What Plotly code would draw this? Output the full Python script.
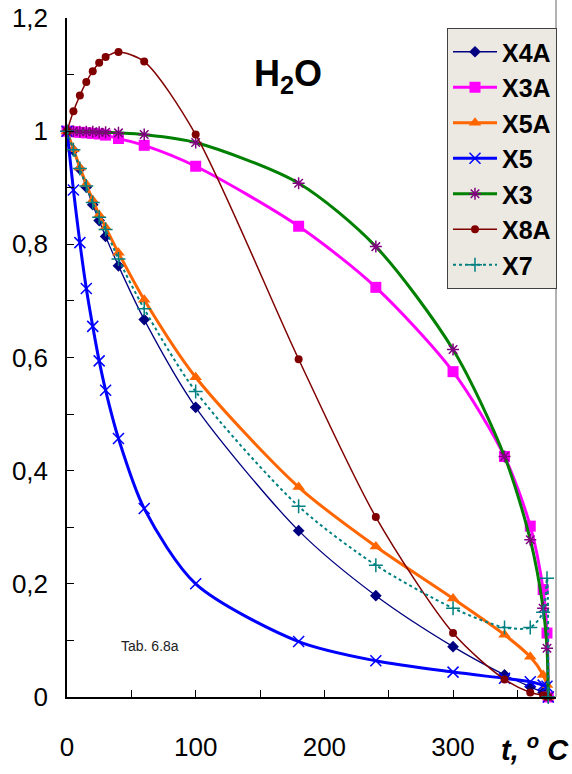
import plotly.graph_objects as go

# Temperature grid, deg C
T = [0, 5, 10, 15, 20, 25, 30, 40, 60, 100, 180, 240, 300, 340, 360, 370, 373, 374]

X4A = [1.0, 0.966, 0.933, 0.901, 0.870, 0.842, 0.814, 0.762, 0.667, 0.512, 0.294, 0.179, 0.089, 0.039, 0.018, 0.008, 0.004, 0.0]
X3A = [1.0, 0.999, 0.998, 0.997, 0.996, 0.995, 0.993, 0.987, 0.975, 0.938, 0.832, 0.724, 0.575, 0.425, 0.302, 0.190, 0.113, 0.0]
X5A = [1.0, 0.968, 0.936, 0.906, 0.878, 0.852, 0.830, 0.785, 0.702, 0.565, 0.371, 0.266, 0.174, 0.110, 0.071, 0.039, 0.021, 0.0]
X5 = [1.0, 0.896, 0.803, 0.722, 0.655, 0.594, 0.542, 0.457, 0.333, 0.200, 0.098, 0.064, 0.044, 0.033, 0.027, 0.021, 0.019, 0.0]
X3 = [1.0, 1.0, 0.999, 0.999, 0.999, 0.998, 0.998, 0.997, 0.994, 0.980, 0.908, 0.796, 0.614, 0.425, 0.278, 0.157, 0.086, 0.0]
X8A = [1.0, 1.035, 1.063, 1.087, 1.106, 1.121, 1.131, 1.140, 1.123, 0.994, 0.597, 0.318, 0.113, 0.031, 0.008, 0.003, 0.001, 0.0]
X7 = [1.0, 0.967, 0.934, 0.903, 0.874, 0.848, 0.826, 0.774, 0.686, 0.540, 0.337, 0.233, 0.157, 0.123, 0.123, 0.150, 0.210, 0.0]

x_ticks = [0, 50, 100, 150, 200, 250, 300, 350]
x_labels = ["0", "", "100", "", "200", "", "300", ""]
y_ticks = [0, 0.1, 0.2, 0.3, 0.4, 0.5, 0.6, 0.7, 0.8, 0.9, 1.0, 1.1, 1.2]
y_labels = ["0", "", "0,2", "", "0,4", "", "0,6", "", "0,8", "", "1", "", "1,2"]

series = [
    ("X4A", X4A, dict(color="#000080", width=1.3, dash="solid"),
     dict(symbol="diamond", size=9, color="#000080")),
    ("X3A", X3A, dict(color="#FF00FF", width=3, dash="solid"),
     dict(symbol="square", size=11, color="#FF00FF")),
    ("X5A", X5A, dict(color="#FF6600", width=3, dash="solid"),
     dict(symbol="triangle-up", size=11, color="#FF6600")),
    ("X5", X5, dict(color="#0000FF", width=3, dash="solid"),
     dict(symbol="x-thin-open", size=11, color="#0000FF", line=dict(color="#0000FF", width=1.5))),
    ("X3", X3, dict(color="#008000", width=3, dash="solid"),
     dict(symbol="asterisk-open", size=10, color="#800080", line=dict(color="#800080", width=1.5))),
    ("X8A", X8A, dict(color="#800000", width=1.5, dash="solid"),
     dict(symbol="circle", size=8, color="#800000")),
    ("X7", X7, dict(color="#008080", width=2, dash="dot"),
     dict(symbol="cross-thin-open", size=10, color="#008080", line=dict(color="#008080", width=1.5))),
]

fig = go.Figure()
for name, ys, ln, mk in series:
    fig.add_trace(go.Scatter(
        x=T, y=ys, name="<b>" + name + "</b>", mode="lines+markers",
        line=dict(shape="spline", smoothing=0.8, **ln),
        marker=mk, cliponaxis=False, legendgroup=name,
    ))

fig.update_layout(
    width=572, height=774, autosize=False,
    margin=dict(l=67, r=16, t=18, b=77),
    paper_bgcolor="white", plot_bgcolor="white",
    font=dict(family="Liberation Sans, Arial, sans-serif", color="black"),
    showlegend=True,
    legend=dict(
        x=(447 - 67) / 489, y=(697 - 28) / 679, xanchor="left", yanchor="top",
        bgcolor="#ECE9E2", bordercolor="#404040", borderwidth=1,
        font=dict(size=25, family="Liberation Sans, Arial, sans-serif", color="black"),
        tracegroupgap=0, traceorder="grouped", itemwidth=44,
    ),
    xaxis=dict(
        range=[0, 380], tickmode="array", tickvals=x_ticks, ticktext=x_labels,
        ticks="inside", ticklen=7, tickcolor="black", tickwidth=1,
        showline=True, linecolor="black", linewidth=1.5,
        showgrid=False, zeroline=False, tickfont=dict(size=26),
        ticklabelstandoff=26, automargin=False,
    ),
    yaxis=dict(
        range=[0, 1.2], tickmode="array", tickvals=y_ticks, ticktext=y_labels,
        ticks="inside", ticklen=7, tickcolor="black", tickwidth=1,
        showline=True, linecolor="black", linewidth=1.5,
        showgrid=False, zeroline=False, tickfont=dict(size=26),
        ticklabelstandoff=12, automargin=False,
    ),
)

# right border of the plot frame
fig.add_shape(type="line", xref="paper", yref="paper",
              x0=1, x1=1, y0=0, y1=1 + 18 / 679,
              line=dict(color="#999999", width=1.5))

fig.add_annotation(text="<b>H<sub>2</sub>O</b>", xref="paper", yref="paper",
                   x=(288 - 67) / 489, y=(697 - 76) / 679,
                   xanchor="center", yanchor="middle",
                   showarrow=False, font=dict(size=36, color="black"))

fig.add_annotation(text="Tab. 6.8a", xref="paper", yref="paper",
                   x=(119 - 67) / 489, y=(697 - 646) / 679,
                   xanchor="left", yanchor="middle",
                   showarrow=False, font=dict(size=14, color="#222222"))

fig.add_annotation(text="<b><i>t, <sup>o</sup> C</i></b>", xref="paper", yref="paper",
                   x=(571 - 67) / 489, y=(697 - 748) / 679,
                   xanchor="right", yanchor="middle",
                   showarrow=False, font=dict(size=29, color="black"))

fig.write_html("out.html")
